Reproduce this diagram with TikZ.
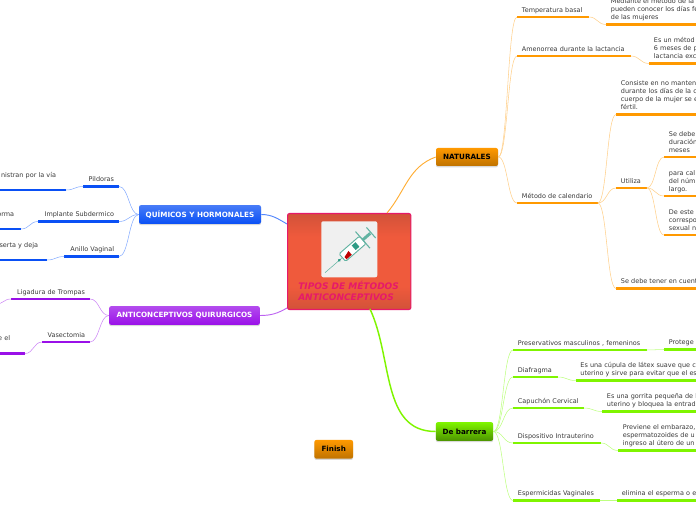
\documentclass[tikz,border=0pt]{standalone}
\usepackage{fontspec}
\setmainfont{DejaVu Sans}
\usetikzlibrary{shadows,calc}
\definecolor{barorange}{HTML}{FF9900}
\definecolor{barblue}{HTML}{0A50F5}
\definecolor{barpurple}{HTML}{9A10E8}
\definecolor{bargreen}{HTML}{7FF500}
\definecolor{linkorange}{HTML}{FFCF8A}
\definecolor{linkblue}{HTML}{86ACFF}
\definecolor{linkpurple}{HTML}{CC86F5}
\definecolor{linkgreen}{HTML}{BDFF80}
\definecolor{centralmain}{HTML}{EF5A3C}
\definecolor{centraldark}{HTML}{D25239}
\definecolor{centralpink}{HTML}{E6196A}
\definecolor{syringe}{HTML}{62B3A2}
\definecolor{syringedark}{HTML}{2E9C86}
\pgfdeclareverticalshading{centralshade}{100bp}{color(0bp)=(centraldark); color(25bp)=(centraldark); color(37bp)=(centralmain); color(63bp)=(centralmain); color(75bp)=(centraldark); color(100bp)=(centraldark)}
\tikzset{
  textfont/.style={font=\fontsize{4.85}{6}\selectfont, text=black!78},
  topic/.code 2 args={\pgfmathsetlengthmacro\topicwidth{(#1-9)*0.75pt}\tikzset{textfont, inner xsep=3.5pt, inner ysep=2.3pt, text width=\topicwidth, execute at end node={\vphantom{p}}, append after command={(\tikzlastnode.south west) edge[line width=1.6pt,#2] (\tikzlastnode.south east)}}},
  rtopic/.style 2 args={topic={#1}{#2}, anchor=south west, align=left},
  ltopic/.style 2 args={topic={#1}{#2}, anchor=south east, align=right},
  mainbox/.style={rounded corners=1.5pt, inner sep=0pt, font=\fontsize{5.4}{6}\bfseries\selectfont, drop shadow={shadow xshift=0pt, shadow yshift=-1pt, opacity=0.3}},
  orangebox/.style={mainbox, top color=barorange, bottom color=barorange!75!black, text=black},
  bluebox/.style={mainbox, top color=barblue!75!white, bottom color=barblue, text=white},
  purplebox/.style={mainbox, top color=barpurple!75!white, bottom color=barpurple, text=white},
  greenbox/.style={mainbox, top color=bargreen, bottom color=bargreen!60!black, text=black},
  link/.style={line width=0.8pt, to path={let \p1=(\tikztostart), \p2=(\tikztotarget) in .. controls ({\x1/2+\x2/2},\y1) and ({\x1/2+\x2/2},\y2) .. (\tikztotarget)}}
}
\begin{document}
\begin{tikzpicture}[x=0.75pt,y=-0.75pt]
\useasboundingbox (0,0) rectangle (696,520);

% links of the central box
\coordinate (cnat) at (387,213);
\coordinate (cchem) at (287,224);
\coordinate (csurg) at (287,308);
\coordinate (cbar) at (370,309);

\node[shading=centralshade, draw=centralpink, line width=0.8pt, rounded corners=1.5pt, minimum width=92.5pt, minimum height=72pt, anchor=north west] (central) at (287,213) {};
\node[fill=black!6, rounded corners=1.5pt, minimum width=42pt, minimum height=42pt, inner sep=0pt, anchor=north west] (picture) at (321,221) {};
\begin{scope}[shift={(325,272.7)}, rotate=41]
  \draw[syringe, line width=0.4pt] (0,0) -- (22,0);
  \fill[syringedark] (19,0) circle (1.6);
  \draw[syringe, fill=white, line width=0.7pt, rounded corners=1pt] (23,-5) rectangle (50,5);
  \fill[red!75!black] (25,1) -- (32,-1) -- (32,4) -- (25,4) -- cycle;
  \fill[syringedark] (38,-3) rectangle (43,3);
  \draw[syringe, line width=0.8pt] (50,-11) -- (50,11);
  \draw[syringe, line width=2.2pt] (50,0) -- (60,0);
  \draw[syringe, line width=0.8pt] (61,-7) -- (61,7);
\end{scope}
\node[anchor=west, inner sep=0pt, font=\fontsize{6.75}{8.2}\bfseries\itshape\selectfont, text=centralpink, align=left] (centraltext) at (298,290.5) {TIPOS DE MÉTODOS\\ANTICONCEPTIVOS};

\node[orangebox, minimum width=46.5pt, minimum height=13.5pt] (naturales) at (467,157) {NATURALES};
\node[bluebox, minimum width=91.5pt, minimum height=14pt] (quimicos) at (200,214.5) {QUÍMICOS Y HORMONALES};
\node[purplebox, minimum width=113pt, minimum height=14pt] (quirurgicos) at (184.5,315.5) {ANTICONCEPTIVOS QUIRURGICOS};
\node[greenbox, minimum width=43pt, minimum height=14pt] (barrera) at (464.5,431.5) {De barrera};
\node[orangebox, minimum width=29pt, minimum height=14pt] (finish) at (333.7,449.3) {Finish};

% naturales
\node[rtopic={71}{barorange}] (temperatura) at (517,17) {Temperatura basal};
\node[rtopic={120}{barorange}] (temperaturanote) at (606,24.5) {Mediante el método de la\\pueden conocer los días fé\\de las mujeres};
\node[rtopic={113}{barorange}] (amenorrea) at (517,56) {Amenorrea durante la lactancia};
\node[rtopic={70}{barorange}] (amenorreanote) at (649,63.5) {Es un métod\\6 meses de p\\lactancia exc};
\node[rtopic={80}{barorange}] (calendario) at (517,203) {Método de calendario};
\node[rtopic={100}{barorange}] (consiste) at (616,114.5) {Consiste en no manten\\durante los días de la c\\cuerpo de la mujer se e\\fértil.};
\node[rtopic={30}{barorange}] (utiliza) at (616,188) {Utiliza};
\node[rtopic={50}{barorange}] (sedebe) at (664,157) {Se debe\\duración\\meses};
\node[rtopic={50}{barorange}] (para) at (664,196) {para cal\\del núm\\largo.};
\node[rtopic={50}{barorange}] (deeste) at (664,235) {De este\\correspo\\sexual n};
\node[rtopic={100}{barorange}] (cuenta) at (616,288.5) {Se debe tener en cuent};

% quimicos
\node[ltopic={35}{barblue}] (pildoras) at (119,186.5) {Pildoras};
\node[ltopic={100}{barblue}] (pildorasnote) at (66,190) {nistran por la vía\hspace*{3.75pt}\mbox{}\\\mbox{}};
\node[ltopic={80}{barblue}] (implante) at (119,221.5) {Implante Subdermico};
\node[ltopic={60}{barblue}] (implantenote) at (21,229) {orma\hspace*{1.5pt}\mbox{}\\\mbox{}};
\node[ltopic={54}{barblue}] (anillo) at (119,256.5) {Anillo Vaginal};
\node[ltopic={80}{barblue}] (anillonote) at (47,260) {serta y deja\hspace*{3pt}\mbox{}\\\mbox{}};

% quirurgicos
\node[ltopic={78}{barpurple}] (ligadura) at (90,299) {Ligadura de Trompas};
\coordinate (ligaduranote) at (-4,304);
\node[ltopic={47}{barpurple}] (vasectomia) at (90,342) {Vasectomia};
\node[ltopic={60}{barpurple}] (vasectomianote) at (25,353.5) {e el\hspace*{7.5pt}\mbox{}\\\mbox{}};

% de barrera
\node[rtopic={133}{bargreen}] (preservativos) at (513,350) {Preservativos masculinos , femeninos};
\node[rtopic={50}{bargreen}] (protege) at (664,349.5) {Protege};
\node[rtopic={44}{bargreen}] (diafragma) at (513,377) {Diafragma};
\node[rtopic={140}{bargreen}] (cupula) at (575.5,380.5) {Es una cúpula de látex suave que c\\uterino y sirve para evitar que el es};
\node[rtopic={70}{bargreen}] (capuchon) at (513,408) {Capuchón Cervical};
\node[rtopic={110}{bargreen}] (gorrita) at (602,411.5) {Es una gorrita pequeña de l\\uterino y bloquea la entrad};
\node[rtopic={87}{bargreen}] (dispositivo) at (513,443) {Dispositivo Intrauterino};
\node[rtopic={100}{bargreen}] (previene) at (618,450.5) {Previene el embarazo,\\espermatozoides de u\\ingreso al útero de un};
\node[rtopic={86}{bargreen}] (espermicidas) at (513,500.5) {Espermicidas Vaginales};
\node[rtopic={100}{bargreen}] (elimina) at (617,500.5) {elimina el esperma o e};

\draw[barorange!80, line width=0.7pt] (cnat) to[out=50, in=200] (naturales.west);
\draw[linkblue!60!barblue, line width=0.7pt] (cchem) to[out=150, in=0] (quimicos.east);
\draw[linkpurple!70!barpurple, line width=0.7pt] (csurg) to[out=210, in=0] (quirurgicos.east);
\draw[bargreen, line width=1.1pt] (cbar) to[out=-65, in=180] (barrera.west);

\foreach \a/\b in {naturales.east/temperatura.south west, naturales.east/amenorrea.south west, naturales.east/calendario.south west, temperatura.south east/temperaturanote.south west, amenorrea.south east/amenorreanote.south west, calendario.south east/consiste.south west, calendario.south east/utiliza.south west, calendario.south east/cuenta.south west, utiliza.south east/sedebe.south west, utiliza.south east/para.south west, utiliza.south east/deeste.south west}
  \draw[linkorange] (\a) to[link] (\b);
\foreach \a/\b in {quimicos.west/pildoras.south east, quimicos.west/implante.south east, quimicos.west/anillo.south east, pildoras.south west/pildorasnote.south east, implante.south west/implantenote.south east, anillo.south west/anillonote.south east}
  \draw[linkblue] (\a) to[link] (\b);
\foreach \a/\b in {quirurgicos.west/ligadura.south east, quirurgicos.west/vasectomia.south east, ligadura.south west/ligaduranote, vasectomia.south west/vasectomianote.south east}
  \draw[linkpurple] (\a) to[link] (\b);
\foreach \a/\b in {barrera.east/preservativos.south west, barrera.east/diafragma.south west, barrera.east/capuchon.south west, barrera.east/dispositivo.south west, barrera.east/espermicidas.south west, preservativos.south east/protege.south west, diafragma.south east/cupula.south west, capuchon.south east/gorrita.south west, dispositivo.south east/previene.south west, espermicidas.south east/elimina.south west}
  \draw[linkgreen] (\a) to[link] (\b);
\end{tikzpicture}
\end{document}
